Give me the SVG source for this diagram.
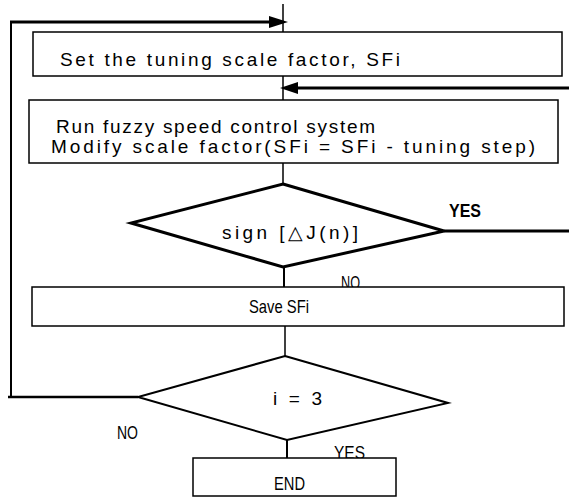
<svg xmlns="http://www.w3.org/2000/svg" width="569" height="498" viewBox="0 0 569 498">
<style>
.box{fill:#fff;stroke:#000;stroke-width:1.5}
.dia{fill:#fff;stroke:#000;stroke-linejoin:miter}
.ln{fill:none;stroke:#000}
.t{font-family:"Liberation Sans",Arial,sans-serif;font-size:19px;fill:#000}
.b{font-family:"Liberation Sans",Arial,sans-serif;font-size:18px;font-weight:bold;fill:#000}
.ah{fill:#000}
</style>
<rect width="569" height="498" fill="#fff"/>
<g id="connectors">
<line class="ln" x1="283" y1="4" x2="283" y2="32" stroke-width="1.5"/>
<polyline class="ln" points="138,397 8,397" stroke-width="2.5"/>
<polyline class="ln" points="11,397 11,22" stroke-width="2"/>
<line class="ln" x1="10" y1="22" x2="276" y2="22" stroke-width="3"/>
<polygon class="ah" points="288,22 269,16 269,28"/>
<line class="ln" x1="283" y1="76" x2="283" y2="100" stroke-width="1.5"/>
<line class="ln" x1="569" y1="88" x2="292" y2="88" stroke-width="3"/>
<polygon class="ah" points="280,88 298,82 298,94"/>
<line class="ln" x1="283" y1="163" x2="283" y2="184" stroke-width="1.5"/>
<line class="ln" x1="444" y1="231" x2="569" y2="231" stroke-width="3"/>
<line class="ln" x1="284" y1="267" x2="284" y2="287" stroke-width="2"/>
<line class="ln" x1="285" y1="326" x2="285" y2="356" stroke-width="1.5"/>
<line class="ln" x1="287" y1="440" x2="287" y2="458" stroke-width="2"/>
</g>
<g id="n1">
<rect class="box" x="33" y="32" width="529" height="44"/>
<text class="t" x="60" y="66" textLength="340" lengthAdjust="spacing">Set the tuning scale factor, SFi</text>
</g>
<g id="n2">
<rect class="box" x="29" y="100" width="529" height="63"/>
<text class="t" x="56" y="133" textLength="319" lengthAdjust="spacing">Run fuzzy speed control system</text>
<text class="t" x="51" y="153" textLength="484" lengthAdjust="spacing">Modify scale factor(SFi = SFi - tuning step)</text>
</g>
<g id="n3">
<polygon class="dia" points="283,184 444,231 283,267 131,223" stroke-width="3"/>
<text class="t" x="222" y="239" textLength="136" lengthAdjust="spacing">sign [△J(n)]</text>
<text class="b" x="449" y="217" textLength="32" lengthAdjust="spacingAndGlyphs">YES</text>
<text class="t" x="341" y="289" font-size="17" textLength="19" lengthAdjust="spacingAndGlyphs">NO</text>
</g>
<g id="n4">
<rect class="box" x="32" y="287" width="532" height="39"/>
<text class="t" x="249" y="313" textLength="60" lengthAdjust="spacingAndGlyphs">Save SFi</text>
</g>
<g id="n5">
<polygon class="dia" points="285,356 448,403 287,440 138,397" stroke-width="2"/>
<text class="t" x="273" y="405" textLength="49" lengthAdjust="spacing">i = 3</text>
<text class="t" x="117" y="439" font-size="17" textLength="21" lengthAdjust="spacingAndGlyphs">NO</text>
<text class="t" x="334" y="459" font-size="17" textLength="31" lengthAdjust="spacingAndGlyphs">YES</text>
</g>
<g id="n6">
<rect class="box" x="193" y="458" width="203" height="38"/>
<text class="t" x="274" y="490" font-size="18" textLength="31" lengthAdjust="spacingAndGlyphs">END</text>
</g>
</svg>
